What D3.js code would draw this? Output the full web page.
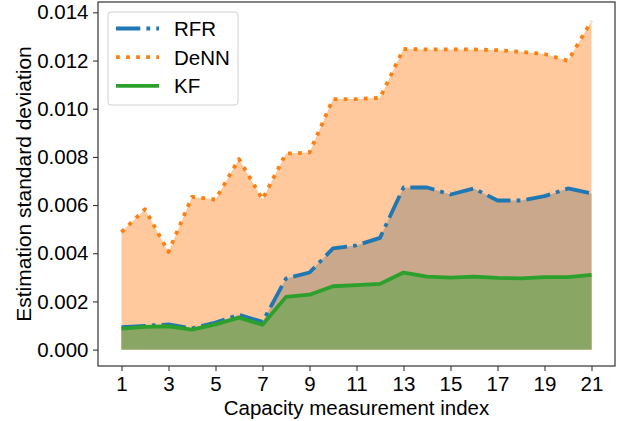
<!DOCTYPE html>
<html>
<head>
<meta charset="utf-8">
<script src="https://cdn.jsdelivr.net/npm/d3@7"></script>
<style>
  html, body { margin: 0; padding: 0; background: #fff; }
  svg { display: block; font-family: "Liberation Sans", Arial, sans-serif; }
</style>
</head>
<body>
<svg id="chart" width="628" height="421"></svg>
<script>
// Capacity measurement indices
const indices = d3.range(1, 22);

// Estimation standard deviation per method
const rfr  = [0.00093, 0.00098, 0.00105, 0.00088, 0.00112, 0.00145, 0.00115, 0.00295, 0.00320, 0.00420, 0.00433,
              0.00464, 0.00673, 0.00673, 0.00644, 0.00669, 0.00619, 0.00619, 0.00637, 0.00669, 0.00648];
const denn = [0.00488, 0.00583, 0.00405, 0.00634, 0.00623, 0.00791, 0.00624, 0.00814, 0.00818, 0.01040, 0.01040,
              0.01045, 0.01248, 0.01246, 0.01246, 0.01246, 0.01243, 0.01236, 0.01227, 0.01199, 0.01364];
const kf   = [0.00087, 0.00094, 0.00097, 0.00083, 0.00105, 0.00133, 0.00103, 0.00219, 0.00228, 0.00263, 0.00268,
              0.00273, 0.00320, 0.00303, 0.00299, 0.00303, 0.00298, 0.00296, 0.00301, 0.00301, 0.00310];

const xTicks = [1, 3, 5, 7, 9, 11, 13, 15, 17, 19, 21];
const yTicks = [0, 0.002, 0.004, 0.006, 0.008, 0.010, 0.012, 0.014];
const seriesNames = ["RFR", "DeNN", "KF"];

const svg = d3.select("#chart");
const W = 628, H = 421;
const m = { left: 98, right: 615, top: 2, bottom: 366 };

svg.append("rect").attr("width", W).attr("height", H).attr("fill", "#fff");

const x = d3.scaleLinear().domain([0, 22]).range([m.left, m.right]);
const y = d3.scaleLinear().domain([-0.00068, 0.01443]).range([m.bottom, m.top]);

const toPts = vals => indices.map((d, i) => [d, vals[i]]);

const area = d3.area().x(d => x(d[0])).y0(y(0)).y1(d => y(d[1]));
const line = d3.line().x(d => x(d[0])).y(d => y(d[1]));

// Filled bands under each curve
svg.append("path").attr("d", area(toPts(denn))).attr("fill", "#ffc99d");
svg.append("path").attr("d", area(toPts(rfr))).attr("fill", "#c9a88b");
svg.append("path").attr("d", area(toPts(kf))).attr("fill", "#89a664");

const lw = 3.8;
const styles = {
  RFR:  { color: "#1f77b4", dash: [6.4 * lw, 1.6 * lw, 1 * lw, 1.6 * lw].join(","), vals: rfr },
  DeNN: { color: "#ff7f0e", dash: [1 * lw, 1.65 * lw].join(","), vals: denn },
  KF:   { color: "#2ca02c", dash: null, vals: kf }
};

seriesNames.forEach(name => {
  const s = styles[name];
  svg.append("path")
    .attr("d", line(toPts(s.vals)))
    .attr("fill", "none")
    .attr("stroke", s.color)
    .attr("stroke-width", lw)
    .attr("stroke-dasharray", s.dash)
    .attr("stroke-linejoin", "round");
});

// Axes
const fs = 20.5;
const xAxis = d3.axisBottom(x).tickValues(xTicks).tickSize(5).tickPadding(5.5).tickFormat(d3.format("d"));
const yAxis = d3.axisLeft(y).tickValues(yTicks).tickSize(5).tickPadding(4.5).tickFormat(d3.format(".3f"));

const gx = svg.append("g").attr("transform", `translate(0,${m.bottom})`).call(xAxis);
const gy = svg.append("g").attr("transform", `translate(${m.left},0)`).call(yAxis);
[gx, gy].forEach(g => {
  g.select(".domain").remove();
  g.selectAll(".tick line").attr("stroke", "#222").attr("stroke-width", 1);
  g.selectAll(".tick text").attr("fill", "#000").style("font-size", fs + "px").style("font-family", "Liberation Sans, Arial, sans-serif");
});

// Frame
svg.append("rect")
  .attr("x", m.left).attr("y", m.top)
  .attr("width", m.right - m.left).attr("height", m.bottom - m.top)
  .attr("fill", "none").attr("stroke", "#333").attr("stroke-width", 1.2);

// Axis titles
svg.append("text")
  .attr("x", (m.left + m.right) / 2).attr("y", 415)
  .attr("text-anchor", "middle").style("font-size", fs + "px")
  .text("Capacity measurement index");

svg.append("text")
  .attr("transform", `translate(31,${(m.top + m.bottom) / 2}) rotate(-90)`)
  .attr("text-anchor", "middle").style("font-size", "21px")
  .text("Estimation standard deviation");

// Legend
const lg = svg.append("g");
lg.append("rect")
  .attr("x", 108).attr("y", 12).attr("width", 130).attr("height", 93)
  .attr("rx", 3).attr("fill", "#fff").attr("fill-opacity", 0.8)
  .attr("stroke", "#d0d0d0").attr("stroke-width", 1);
seriesNames.forEach((name, i) => {
  const s = styles[name];
  const yy = 28.5 + i * 28.7;
  lg.append("line")
    .attr("x1", 116).attr("x2", 159).attr("y1", yy).attr("y2", yy)
    .attr("stroke", s.color).attr("stroke-width", lw)
    .attr("stroke-dasharray", s.dash);
  lg.append("text")
    .attr("x", 174).attr("y", yy + 7.5)
    .style("font-size", fs + "px")
    .text(name);
});
</script>
</body>
</html>
